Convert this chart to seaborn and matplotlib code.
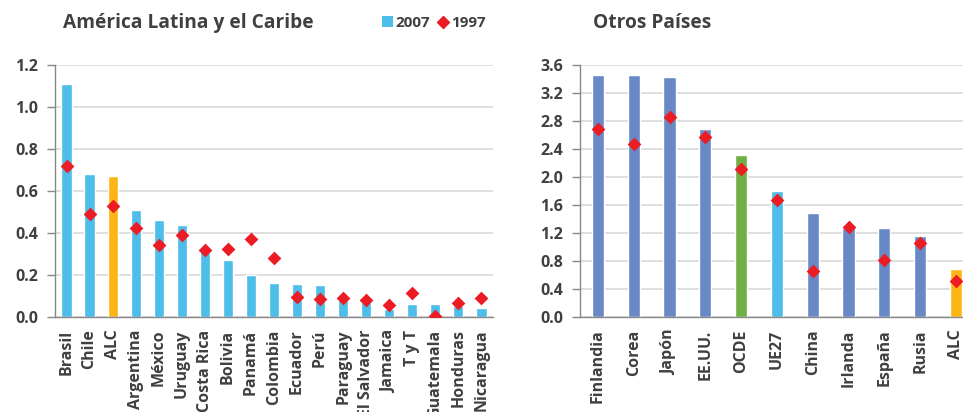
import numpy as np
import pandas as pd
import matplotlib
matplotlib.use("Agg")
import matplotlib.pyplot as plt
import seaborn as sns
from matplotlib.lines import Line2D
from matplotlib.patches import Patch

# datos: America Latina y el Caribe
alc_paises = ["Brasil", "Chile", "ALC", "Argentina", "México", "Uruguay", "Costa Rica",
              "Bolivia", "Panamá", "Colombia", "Ecuador", "Perú", "Paraguay", "El Salvador",
              "Jamaica", "T y T", "Guatemala", "Honduras", "Nicaragua"]
alc_2007 = [1.11, 0.68, 0.67, 0.51, 0.46, 0.44, 0.31, 0.27, 0.20, 0.16, 0.155, 0.15,
            0.08, 0.07, 0.04, 0.06, 0.06, 0.05, 0.045]
alc_1997 = [0.72, 0.49, 0.53, 0.425, 0.345, 0.39, 0.32, 0.325, 0.37, 0.28, 0.095, 0.085,
            0.09, 0.08, 0.055, 0.115, 0.005, 0.065, 0.09]

# datos: otros paises
otros_paises = ["Finlandia", "Corea", "Japón", "EE.UU.", "OCDE", "UE27", "China",
                "Irlanda", "España", "Rusia", "ALC"]
otros_2007 = [3.46, 3.46, 3.43, 2.68, 2.31, 1.80, 1.49, 1.27, 1.27, 1.15, 0.68]
otros_1997 = [2.69, 2.47, 2.85, 2.57, 2.11, 1.67, 0.65, 1.28, 0.82, 1.06, 0.52]

celeste = "#4DBDE9"
naranja = "#FDB515"
azul = "#6889C6"
verde = "#6FAF45"
rojo = "#EC1C24"
gris = "#404040"

alc_colores = [naranja if p == "ALC" else celeste for p in alc_paises]
otros_colores = {"OCDE": verde, "UE27": celeste, "ALC": naranja}
otros_colores = [otros_colores.get(p, azul) for p in otros_paises]

sns.set_style("white")
plt.rcParams["font.family"] = ["Open Sans", "DejaVu Sans"]
plt.rcParams["font.weight"] = "bold"

fig = plt.figure(figsize=(9.63, 4.12), dpi=100)
ax1 = fig.add_axes([0.0571, 0.2306, 0.4548, 0.6117])
ax2 = fig.add_axes([0.6023, 0.2306, 0.409, 0.6117])


def panel(ax, cats, v07, v97, colores, ymax, paso, ancho):
    sns.barplot(x=cats, y=v07, hue=cats, palette=colores, legend=False,
                width=ancho, saturation=1, ax=ax, zorder=2)
    sns.stripplot(x=cats, y=v97, jitter=False, marker="D", color=rojo, size=7,
                  linewidth=0, ax=ax, zorder=3)
    n = len(cats)
    ax.set_xlim(-0.5, n - 0.5)
    ax.set_ylim(0, ymax)
    yt = np.arange(0, ymax + paso / 2, paso)
    ax.set_yticks(yt)
    ax.set_yticklabels([f"{t:.1f}" for t in yt], fontweight="bold")
    ax.set_xticks(range(n))
    ax.set_xticklabels(cats, rotation=90, fontweight="bold")
    ax.set_xticks(np.arange(-0.5, n, 1), minor=True)
    ax.tick_params(axis="x", which="major", length=0, pad=9, labelsize=11.5, colors=gris)
    ax.tick_params(axis="x", which="minor", length=5, width=1, color="#888888", direction="out")
    ax.tick_params(axis="y", length=6, width=1, color="#888888", direction="out", pad=6,
                   labelsize=11.5, labelcolor=gris, left=True)
    ax.yaxis.grid(True, color="#D9D9D9", linewidth=1.2, zorder=0)
    ax.set_axisbelow(True)
    for s in ["top", "right"]:
        ax.spines[s].set_visible(False)
    for s in ["left", "bottom"]:
        ax.spines[s].set_color("#888888")
        ax.spines[s].set_linewidth(1)
    ax.set_xlabel("")
    ax.set_ylabel("")


panel(ax1, alc_paises, alc_2007, alc_1997, alc_colores, 1.2, 0.2, 0.44)
panel(ax2, otros_paises, otros_2007, otros_1997, otros_colores, 3.6, 0.4, 0.34)

fig.text(63 / 963, 1 - 23 / 412, "América Latina y el Caribe", fontsize=13.8,
         fontweight="bold", color=gris, va="center", ha="left")
fig.text(593 / 963, 1 - 23 / 412, "Otros Países", fontsize=13.8,
         fontweight="bold", color=gris, va="center", ha="left")

handles = [Patch(facecolor=celeste, edgecolor="none", label="2007"),
           Line2D([], [], marker="D", color=rojo, linestyle="none", markersize=6, label="1997")]
fig.legend(handles=handles, loc="center right", bbox_to_anchor=(500 / 963, 1 - 23 / 412),
           ncol=2, frameon=False, handlelength=0.7, handletextpad=0.2, columnspacing=0.5,
           prop={"size": 11, "weight": "bold"}, labelcolor=gris)

fig.savefig("out.png", dpi=100)
